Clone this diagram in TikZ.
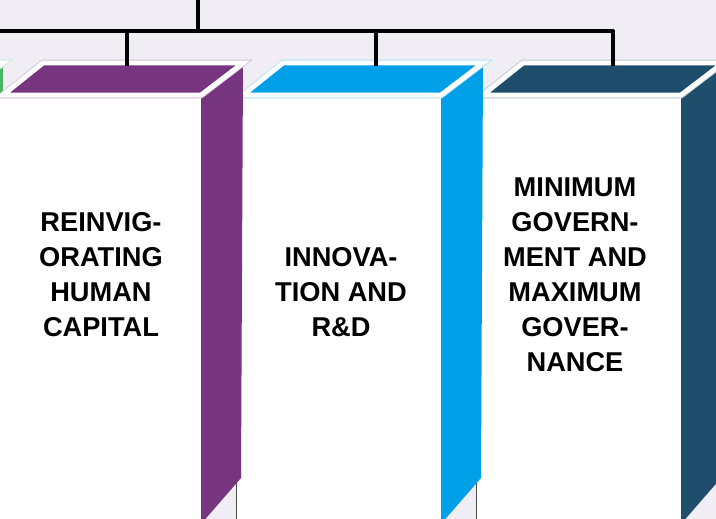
\documentclass[tikz,border=0pt]{standalone}
\usepackage{fontspec}
\setmainfont{Liberation Sans}
\usetikzlibrary{positioning}
\definecolor{backdrop}{RGB}{240,237,245}
\definecolor{pillargreen}{RGB}{72,182,98}
\definecolor{pillarpurple}{RGB}{118,53,126}
\definecolor{pillarblue}{RGB}{0,160,233}
\definecolor{pillarnavy}{RGB}{31,78,108}
\tikzset{%
  % Specifications for style of the tree lines:
   branch/.style={
           line width=1.9pt,
           black,
           line join=round},
  % Specifications for style of the pillar faces:
   frontface/.style = {fill=white},
   sideface/.style = {draw=none},
   topface/.style = {line width=2.8pt, draw=white, line join=miter},
   faceedge/.style = {line width=0.5pt, draw=black!70},
  % Specifications for style of the captions:
   caption/.style = {align=center, inner sep=0pt,
                  font=\fontsize{15.5}{19.9}\selectfont\bfseries},
}

\begin{document}
\begin{tikzpicture}[x=0.02cm, y=-0.02cm]

  \useasboundingbox (0,0) rectangle (716,519);
  \fill[backdrop] (0,0) rectangle (716,519);
  \clip (0,0) rectangle (716,519);

  % Pillars (left one first, then from right to left)
  \foreach \L/\col in {-237/pillargreen, 483/pillarnavy, 243/pillarblue, 3/pillarpurple}{
    \fill[frontface] ({\L-8},95) -- ({\L+198},95) -- ({\L+198},530) -- ({\L-7},530) -- cycle;
    \fill[sideface, fill=\col] ({\L+198},95) -- ({\L+240},63) -- ({\L+238},478) -- ({\L+198},524) -- cycle;
    \draw[draw=\col!30, line width=3.8pt, line join=miter] (\L,95) -- ({\L+198},95) -- ({\L+240},63) -- ({\L+40},63) -- cycle;
    \filldraw[topface, fill=\col] (\L,95) -- ({\L+198},95) -- ({\L+240},63) -- ({\L+40},63) -- cycle;
    \draw[faceedge] ({\L-7},470) -- ({\L-7},530);
  }

  % Captions
  \node (pillar1) [caption] at (101,274.5) {REINVIG-\\ORATING\\HUMAN\\CAPITAL};
  \node (pillar2) [caption] at (341,292) {INNOVA-\\TION AND\\R\&D};
  \node (pillar3) [caption] at (575,274.5) {MINIMUM\\GOVERN-\\MENT AND\\MAXIMUM\\GOVER-\\NANCE};

  % Tree lines
  \coordinate (root) at (198,-5);
  \coordinate (hub) at (198,31);
  \coordinate (drop0) at (-113,66);
  \coordinate (drop1) at (127,66);
  \coordinate (drop2) at (376,66);
  \coordinate (drop3) at (613,66);

  \draw[branch] (root) -- (hub);
  \draw[branch] (drop0) |- (hub) -| (drop3);
  \draw[branch] (drop1) -- (drop1 |- hub);
  \draw[branch] (drop2) -- (drop2 |- hub);

\end{tikzpicture}
\end{document}
